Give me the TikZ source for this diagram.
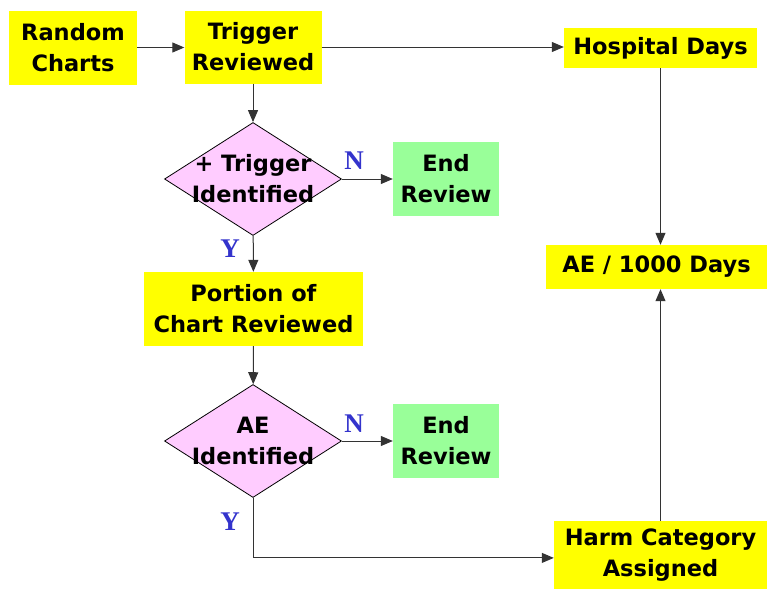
\documentclass[tikz,border=0pt]{standalone}
\usepackage{fontspec}
\setmainfont{DejaVu Sans}
\newfontfamily\ynfont{Liberation Serif}
\usetikzlibrary{shapes.geometric,arrows.meta}
\definecolor{boxyellow}{HTML}{FFFF00}
\definecolor{boxpink}{HTML}{FFCCFF}
\definecolor{boxgreen}{HTML}{99FF99}
\definecolor{ynblue}{HTML}{3333CC}
\definecolor{linegray}{HTML}{333333}
\tikzset{
  flowtext/.style={font=\bfseries\fontsize{22.5}{31}\selectfont, align=center, text=black},
  ybox/.style={flowtext, fill=boxyellow, inner sep=0pt},
  gbox/.style={flowtext, fill=boxgreen, inner sep=0pt, minimum width=106pt, minimum height=74pt},
  decision/.style={diamond, draw=black, line width=0.8pt, fill=boxpink, inner sep=0pt,
    minimum width=177pt, minimum height=113pt},
  ynlabel/.style={font=\ynfont\bfseries\fontsize{27}{28}\selectfont, text=ynblue},
  flow/.style={draw=linegray, line width=1pt, -{Triangle[length=12pt,width=10pt]}},
}
\begin{document}
\begin{tikzpicture}[x=1pt,y=-1pt]
\useasboundingbox (0,0) rectangle (767,589);

% top row
\node[ybox, minimum width=128pt, minimum height=74pt] (random) at (73,47.5) {Random\\Charts};
\node[ybox, minimum width=137pt, minimum height=73pt] (trigger) at (253,47) {Trigger\\Reviewed};
\node[ybox, minimum width=193pt, minimum height=40pt] (hosp) at (660.5,48) {Hospital Days};

% first decision
\node[decision, label={[flowtext]center:+ Trigger\\Identified}] (d1) at (253,179) {};
\node[gbox] (end1) at (446,179) {End\\Review};

\node[ybox, minimum width=219pt, minimum height=74pt] (portion) at (253.5,309) {Portion of\\Chart Reviewed};

% second decision
\node[decision, label={[flowtext]center:AE\\Identified}] (d2) at (253,441) {};
\node[gbox] (end2) at (446,441) {End\\Review};

% right column
\node[ybox, minimum width=221pt, minimum height=44pt] (ae) at (656.5,267) {AE / 1000 Days};
\node[ybox, minimum width=213pt, minimum height=68pt] (harm) at (660.5,555) {Harm Category\\Assigned};

% branch labels
\node[ynlabel] (n1) at (354,161) {N};
\node[ynlabel] (y1) at (230,249) {Y};
\node[ynlabel] (n2) at (354,424) {N};
\node[ynlabel] (y2) at (230,522) {Y};

% connectors
\draw[flow] (random.east) -- (random.east -| trigger.west);
\draw[flow] (trigger.east) -- (trigger.east -| hosp.west);
\draw[flow] (trigger) -- (d1);
\draw[flow] (d1.east) -- (end1.west);
\draw[flow] (d1) -- (portion);
\draw[flow] (portion) -- (d2);
\draw[flow] (d2.east) -- (end2.west);
\draw[flow] (d2.south) -- ++(0,60) coordinate (corner) -- (corner -| harm.west);
\draw[flow] (hosp.south) -- (hosp.south |- ae.north);
\draw[flow] (harm.north) -- (harm.north |- ae.south);
\end{tikzpicture}
\end{document}
